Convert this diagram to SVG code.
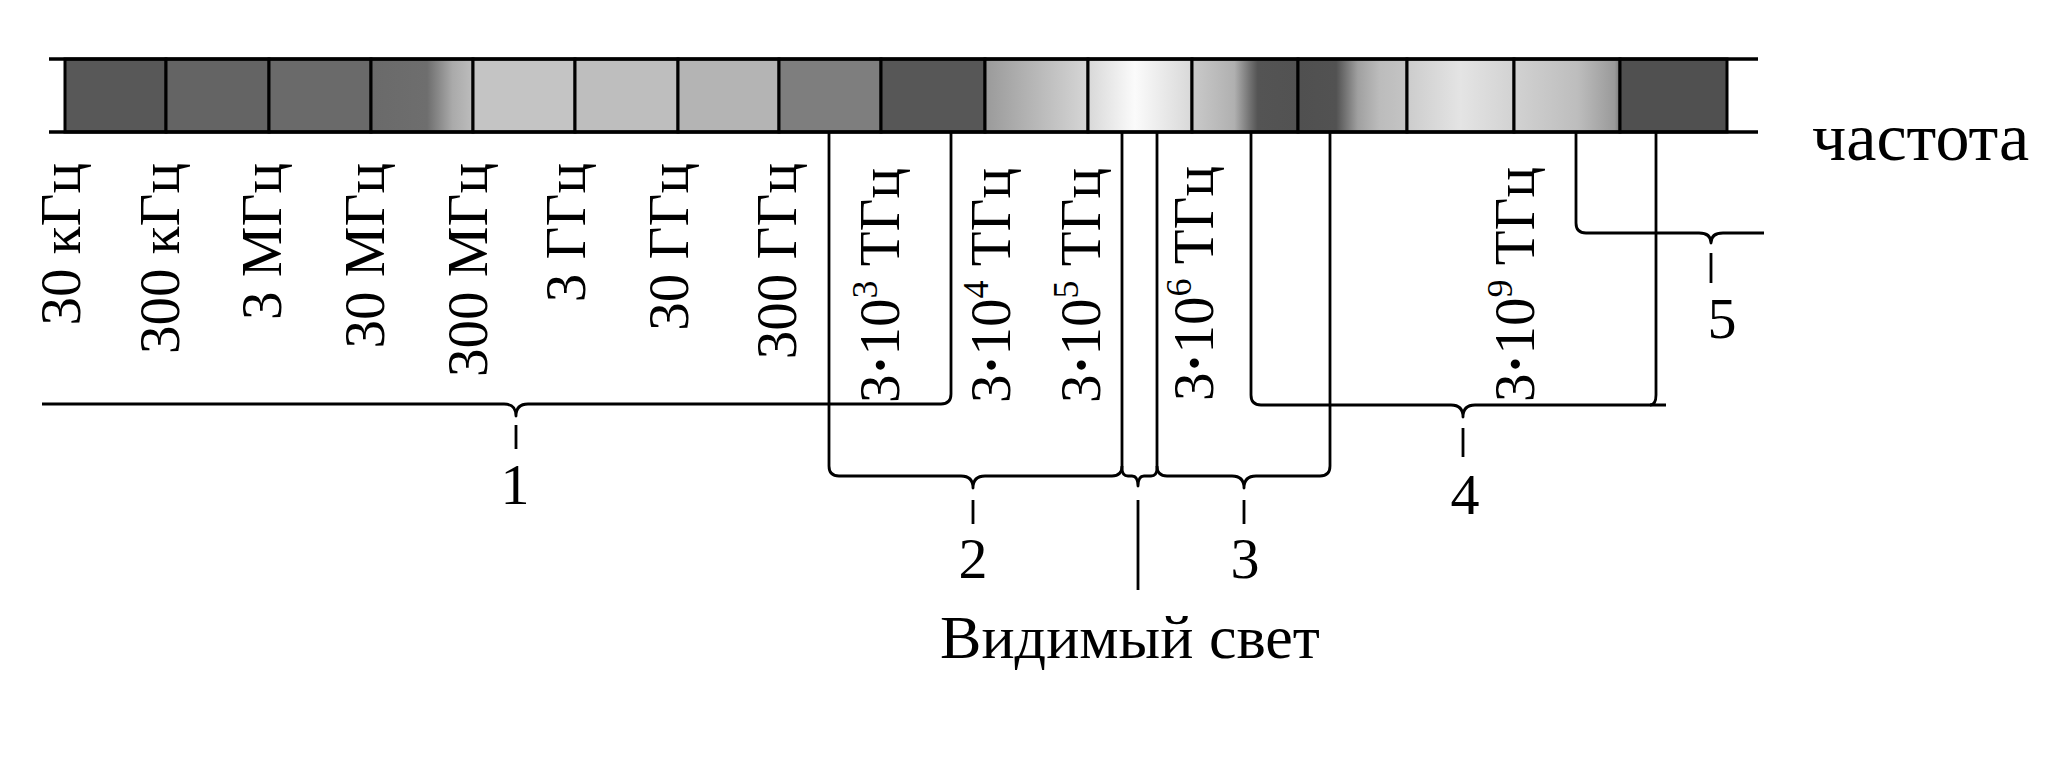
<svg xmlns="http://www.w3.org/2000/svg" width="2070" height="760" viewBox="0 0 2070 760">
<style>
.rail{stroke:#000;stroke-width:3.5;fill:none}
.cell{stroke:#000;stroke-width:3}
.ln{stroke:#000;stroke-width:2.8;fill:none;stroke-linejoin:round}
.lbl{font-family:"Liberation Serif","Times New Roman",serif;font-size:57px;fill:#000;text-anchor:end}
.num{font-family:"Liberation Serif","Times New Roman",serif;font-size:58px;fill:#000;text-anchor:middle}
.big{font-family:"Liberation Serif","Times New Roman",serif;font-size:62px;fill:#000}
.axis{font-family:"Liberation Serif","Times New Roman",serif;font-size:68px;fill:#000}
</style>
<defs>
<linearGradient id="g4" x1="0" y1="0" x2="1" y2="0"><stop offset="0" stop-color="#6a6a6a"/><stop offset="0.55" stop-color="#6e6e6e"/><stop offset="0.8" stop-color="#aaaaaa"/><stop offset="1" stop-color="#bdbdbd"/></linearGradient>
<linearGradient id="g10" x1="0" y1="0" x2="1" y2="0"><stop offset="0" stop-color="#9a9a9a"/><stop offset="1" stop-color="#d6d6d6"/></linearGradient>
<linearGradient id="g11" x1="0" y1="0" x2="1" y2="0"><stop offset="0" stop-color="#d8d8d8"/><stop offset="0.45" stop-color="#fbfbfb"/><stop offset="1" stop-color="#d8d8d8"/></linearGradient>
<linearGradient id="g12" x1="0" y1="0" x2="1" y2="0"><stop offset="0" stop-color="#cacaca"/><stop offset="0.4" stop-color="#b0b0b0"/><stop offset="0.55" stop-color="#707070"/><stop offset="0.62" stop-color="#545454"/><stop offset="1" stop-color="#525252"/></linearGradient>
<linearGradient id="g13" x1="0" y1="0" x2="1" y2="0"><stop offset="0" stop-color="#505050"/><stop offset="0.35" stop-color="#525252"/><stop offset="0.55" stop-color="#a0a0a0"/><stop offset="0.75" stop-color="#bcbcbc"/><stop offset="1" stop-color="#c4c4c4"/></linearGradient>
<linearGradient id="g14" x1="0" y1="0" x2="1" y2="0"><stop offset="0" stop-color="#cccccc"/><stop offset="0.5" stop-color="#e4e4e4"/><stop offset="1" stop-color="#d2d2d2"/></linearGradient>
<linearGradient id="g15" x1="0" y1="0" x2="1" y2="0"><stop offset="0" stop-color="#d2d2d2"/><stop offset="0.6" stop-color="#bdbdbd"/><stop offset="0.95" stop-color="#9a9a9a"/><stop offset="1" stop-color="#7a7a7a"/></linearGradient>
</defs>

<g id="spectrum-bar">
<rect class="cell" x="65" y="59" width="101" height="73" fill="#585858"/>
<rect class="cell" x="166" y="59" width="103" height="73" fill="#646464"/>
<rect class="cell" x="269" y="59" width="102" height="73" fill="#6a6a6a"/>
<rect class="cell" x="371" y="59" width="102" height="73" fill="url(#g4)"/>
<rect class="cell" x="473" y="59" width="102" height="73" fill="#c4c4c4"/>
<rect class="cell" x="575" y="59" width="103" height="73" fill="#bebebe"/>
<rect class="cell" x="678" y="59" width="101" height="73" fill="#b4b4b4"/>
<rect class="cell" x="779" y="59" width="102" height="73" fill="#7e7e7e"/>
<rect class="cell" x="881" y="59" width="104" height="73" fill="#575757"/>
<rect class="cell" x="985" y="59" width="103" height="73" fill="url(#g10)"/>
<rect class="cell" x="1088" y="59" width="104" height="73" fill="url(#g11)"/>
<rect class="cell" x="1192" y="59" width="106" height="73" fill="url(#g12)"/>
<rect class="cell" x="1298" y="59" width="109" height="73" fill="url(#g13)"/>
<rect class="cell" x="1407" y="59" width="107" height="73" fill="url(#g14)"/>
<rect class="cell" x="1514" y="59" width="106" height="73" fill="url(#g15)"/>
<rect class="cell" x="1620" y="59" width="107" height="73" fill="#505050"/>
<line class="rail" x1="49" y1="59" x2="1758" y2="59"/>
<line class="rail" x1="49" y1="132" x2="1758" y2="132"/>
</g>

<g id="freq-labels">
<text class="lbl" transform="translate(80,163) rotate(-90)">30 кГц</text>
<text class="lbl" transform="translate(179,163) rotate(-90)">300 кГц</text>
<text class="lbl" transform="translate(281,163) rotate(-90)">3 МГц</text>
<text class="lbl" transform="translate(384,163) rotate(-90)">30 МГц</text>
<text class="lbl" transform="translate(487,163) rotate(-90)">300 МГц</text>
<text class="lbl" transform="translate(585,163) rotate(-90)">3 ГГц</text>
<text class="lbl" transform="translate(688,163) rotate(-90)">30 ГГц</text>
<text class="lbl" transform="translate(796,163) rotate(-90)">300 ГГц</text>
<text class="lbl" transform="translate(899,168) rotate(-90)">3<tspan font-weight="bold">·</tspan>10<tspan font-size="36" dy="-22">3</tspan><tspan dy="22"> ТГц</tspan></text>
<text class="lbl" transform="translate(1010,168) rotate(-90)">3<tspan font-weight="bold">·</tspan>10<tspan font-size="36" dy="-22">4</tspan><tspan dy="22"> ТГц</tspan></text>
<text class="lbl" transform="translate(1100,168) rotate(-90)">3<tspan font-weight="bold">·</tspan>10<tspan font-size="36" dy="-22">5</tspan><tspan dy="22"> ТГц</tspan></text>
<text class="lbl" transform="translate(1213,166) rotate(-90)">3<tspan font-weight="bold">·</tspan>10<tspan font-size="36" dy="-22">6</tspan><tspan dy="22"> ТГц</tspan></text>
<text class="lbl" transform="translate(1534,167) rotate(-90)">3<tspan font-weight="bold">·</tspan>10<tspan font-size="36" dy="-22">9</tspan><tspan dy="22"> ТГц</tspan></text>
</g>

<g id="connectors">
<path class="ln" d="M42,404 H504 q12,0 12,12 q0,-12 12,-12 H941 q10,0 10,-10 V132"/>
<line class="ln" x1="516" y1="425" x2="516" y2="449"/>
<path class="ln" d="M829,132 V466 q0,10 10,10 H961 q12,0 12,12 q0,-12 12,-12 H1112 q10,0 10,-10"/>
<line class="ln" x1="973" y1="500" x2="973" y2="524"/>
<path class="ln" d="M1122,132 V468 q0,8 6,8 H1132 q6,0 6,10 q0,-10 6,-10 H1151 q6,0 6,-8 V132"/>
<line class="ln" x1="1138" y1="500" x2="1138" y2="590"/>
<path class="ln" d="M1157,466 q0,10 10,10 H1232 q12,0 12,12 q0,-12 12,-12 H1320 q10,0 10,-10 V132"/>
<line class="ln" x1="1244" y1="500" x2="1244" y2="524"/>
<path class="ln" d="M1251,132 V395 q0,10 10,10 H1451 q12,0 12,12 q0,-12 12,-12 H1666"/>
<path class="ln" d="M1656,132 V395 q0,10 -6,10"/>
<line class="ln" x1="1463" y1="428" x2="1463" y2="457"/>
<path class="ln" d="M1576,132 V223 q0,10 10,10 H1699 q12,0 12,10 q0,-10 12,-10 H1764"/>
<line class="ln" x1="1711" y1="253" x2="1711" y2="283"/>
</g>

<g id="range-labels">
<text class="num" x="515" y="504">1</text>
<text class="num" x="973" y="578">2</text>
<text class="num" x="1245" y="578">3</text>
<text class="num" x="1465" y="514">4</text>
<text class="num" x="1722" y="338">5</text>
</g>

<g id="axis-label">
<text class="axis" x="1812" y="160">частота</text>
</g>

<g id="visible-light-label">
<text class="big" x="1130" y="658" text-anchor="middle">Видимый свет</text>
</g>
</svg>
